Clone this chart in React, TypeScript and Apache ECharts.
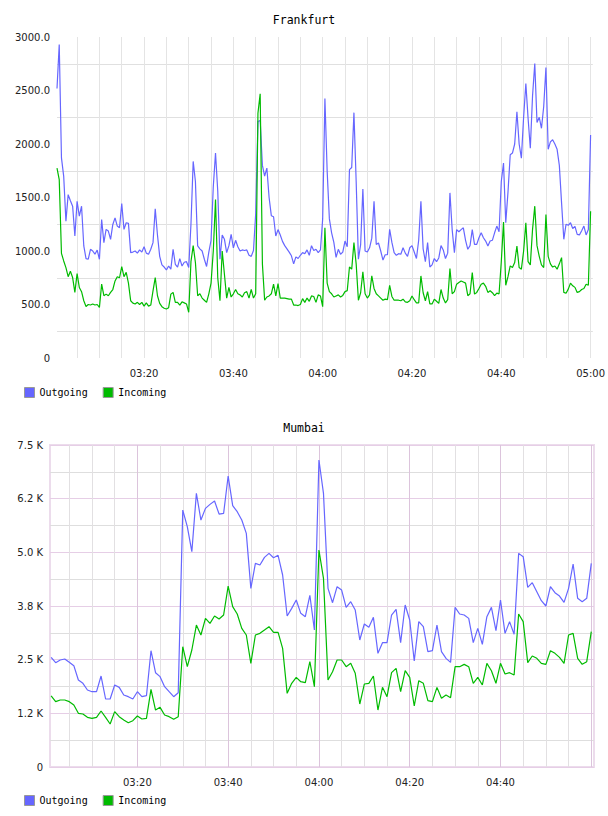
import React, { useEffect, useRef } from 'react';
import * as echarts from 'echarts';

// ---------- shared ----------
const seriesNames = ['Outgoing', 'Incoming'];
const outgoingColor = '#6666ff';
const incomingColor = '#00bb00';

// minutes after 03:00
const xTickMinutes = [20, 40, 60, 80, 100, 120];
const xTickLabels = ['03:20', '03:40', '04:00', '04:20', '04:40', '05:00'];
const mumbaiXTickMinutes = [20, 40, 60, 80, 100];
const gridMinutes = [5, 10, 15, 20, 25, 30, 35, 40, 45, 50, 55, 60, 65, 70, 75, 80, 85, 90, 95, 100, 105, 110, 115, 120];

// ---------- Frankfurt (30 s samples from 03:00:30) ----------
const frankfurtStartMin = 0.5;
const frankfurtStepMin = 0.5;
const frankfurtOutgoing = [
  2519, 2930, 1870, 1698, 1279, 1527, 1470, 1419, 1140, 1465,
  1326, 1419, 1047, 929, 923, 1016, 1000, 970, 1009, 923,
  1295, 1078, 1202, 1186, 1109, 1248, 1310, 1233, 1217, 1443,
  1202, 1264, 1258, 985, 990, 1000, 980, 1010, 990, 1040,
  980, 969, 1016, 1078, 1394, 1150, 950, 870, 850, 823,
  860, 830, 1016, 876, 850, 929, 860, 895, 900, 845,
  1250, 1837, 1650, 1047, 1020, 1000, 923, 855, 990, 1100,
  1600, 1915, 1560, 923, 1150, 1109, 985, 1050, 1155, 1030,
  1100, 1040, 1000, 1010, 1005, 1010, 960, 950, 1005, 1350,
  2210, 2220, 1800, 1700, 1775, 1500, 1330, 1320, 1140, 1200,
  1150, 1090, 1050, 1020, 990, 955, 880, 945, 930, 960,
  985, 975, 1010, 960, 1050, 1005, 1016, 985, 1010, 1300,
  2426, 1750, 1300, 1170, 1080, 940, 1016, 970, 990, 1093,
  1040, 1760, 1780, 2293, 1650, 923, 1060, 1580, 1000, 990,
  1030, 1120, 1465, 1060, 1075, 1000, 915, 965, 965, 1202,
  1080, 985, 960, 975, 970, 1030, 980, 950, 1030, 1050,
  990, 930, 1100, 1465, 1020, 900, 1078, 850, 870, 930,
  900, 935, 1050, 1010, 930, 980, 1543, 1200, 985, 1200,
  1180, 1200, 1217, 1100, 1016, 1050, 1200, 1062, 1062, 1124,
  1170, 1124, 1093, 1047, 1093, 1100, 1170, 1233, 1180, 1650,
  1822, 1264, 1550, 1900, 1915, 2000, 2302, 2000, 1868, 2250,
  2566, 2240, 1960, 2450, 2752, 2200, 2250, 2147, 2350, 2715,
  1950, 2020, 2040, 2000, 1950, 1800, 1450, 1109, 1250, 1240,
  1264, 1210, 1230, 1155, 1150, 1190, 1233, 1150, 1200, 2085,
];
const frankfurtIncoming = [
  1775, 1667, 978, 907, 845, 760, 811, 752, 613, 789,
  659, 620, 535, 482, 500, 495, 505, 495, 500, 473,
  690, 582, 597, 582, 613, 640, 720, 760, 750, 854,
  760, 800, 700, 535, 513, 505, 520, 500, 520, 485,
  515, 485, 495, 628, 752, 582, 510, 480, 465, 458,
  470, 597, 613, 520, 520, 495, 525, 515, 505, 427,
  900, 1050, 892, 582, 600, 560, 540, 520, 600, 700,
  1000, 1481, 750, 535, 1000, 780, 560, 659, 570, 600,
  640, 600, 590, 570, 610, 620, 560, 640, 560, 600,
  2287, 2470, 880, 540, 570, 580, 600, 690, 580, 696,
  560, 560, 560, 555, 550, 550, 495, 495, 490, 500,
  555, 520, 560, 530, 580, 575, 520, 590, 580, 480,
  1217, 700, 620, 600, 570, 580, 590, 570, 585, 620,
  630, 850, 830, 1078, 880, 540, 610, 805, 600, 560,
  590, 767, 650, 600, 580, 560, 540, 550, 545, 678,
  575, 540, 540, 540, 535, 550, 525, 520, 535, 580,
  545, 515, 515, 767, 610, 535, 620, 505, 505, 550,
  530, 510, 640, 560, 515, 545, 836, 600, 620, 690,
  705, 720, 710, 700, 582, 600, 799, 597, 613, 650,
  690, 700, 670, 613, 628, 610, 582, 606, 600, 900,
  1270, 680, 760, 861, 845, 892, 1047, 845, 830, 1000,
  1264, 900, 870, 1202, 1419, 1050, 950, 870, 845, 1341,
  950, 880, 850, 860, 830, 880, 938, 613, 605, 644,
  700, 675, 660, 613, 620, 640, 650, 690, 680, 1372,
];
const frankfurtYTicks = [0, 500, 1000, 1500, 2000, 2500, 3000];
const frankfurtYLabels = ['0', '500.0', '1000.0', '1500.0', '2000.0', '2500.0', '3000.0'];

// ---------- Mumbai (1 min samples from 03:01) ----------
const mumbaiStartMin = 1;
const mumbaiStepMin = 1;
const mumbaiOutgoing = [
  2554, 2430, 2492, 2515, 2438, 2360, 2026, 1949, 1793, 1754,
  1754, 2119, 1584, 1584, 1910, 1855, 1677, 1638, 1584, 1754,
  1638, 1661, 2709, 2197, 2104, 1871, 1754, 1638, 1731, 5985,
  5597, 5015, 6373, 5752, 6024, 6117, 6195, 5892, 5908, 6777,
  6086, 5947, 5752, 5442, 4161, 4743, 4704, 4883, 4976, 4875,
  4930, 4472, 3517, 3695, 3889, 3579, 3500, 4000, 3190, 7150,
  6373, 4161, 3827, 4200, 4122, 3718, 3851, 3656, 2958, 3330,
  3253, 3486, 2647, 2896, 2896, 3540, 3672, 2896, 3773, 3424,
  2469, 3385, 3268, 2686, 2709, 3307, 2686, 2531, 2438, 3718,
  3563, 3540, 3462, 2896, 3229, 2857, 3501, 3718, 3175, 3889,
  3113, 3385, 3090, 4976, 4898, 4184, 4293, 4083, 3874, 3750,
  4200, 4060, 3982, 3835, 4161, 4728, 3928, 3851, 3928, 4743,
];
const mumbaiIncoming = [
  1654, 1522, 1560, 1560, 1522, 1444, 1250, 1234, 1157, 1133,
  1157, 1304, 1157, 1001, 1289, 1172, 1095, 1032, 1079, 1188,
  1118, 1133, 1809, 1327, 1390, 1211, 1172, 1110, 1172, 2802,
  2337, 2725, 3307, 3074, 3462, 3346, 3517, 3447, 3540, 4215,
  3734, 3563, 3229, 3074, 2414, 3074, 3113, 3190, 3268, 3136,
  3136, 2764, 1716, 1949, 2088, 1987, 1964, 2453, 1871, 5054,
  4394, 2026, 2220, 2492, 2492, 2337, 2414, 2181, 1467, 1933,
  1949, 2119, 1327, 1855, 1638, 2197, 2298, 1754, 2243, 2088,
  1421, 2010, 1949, 1545, 1522, 1855, 1599, 1677, 1615, 2337,
  2337, 2391, 2337, 1949, 2088, 1910, 2414, 2243, 1949, 2414,
  2166, 2197, 2143, 3563, 3385, 2430, 2585, 2531, 2414, 2391,
  2709, 2647, 2554, 2414, 3074, 3113, 2531, 2391, 2453, 3152,
];
const mumbaiYTicks = [0, 1250, 2500, 3750, 5000, 6250, 7500];
const mumbaiYLabels = ['0', '1.2 K', '2.5 K', '3.8 K', '5.0 K', '6.2 K', '7.5 K'];

// ---------- helpers ----------
const toPairs = (vals: number[], start: number, step: number) =>
  vals.map((v, i) => [start + i * step, v]);

const sans = 'DejaVu Sans';
const mono = 'DejaVu Sans Mono';

const xLabel = (v: number) => {
  const i = xTickMinutes.indexOf(Math.round(v));
  return i >= 0 ? xTickLabels[i] : '';
};

const lineSeries = (name: string, color: string, data: number[][], idx: number) => ({
  name,
  type: 'line',
  xAxisIndex: idx,
  yAxisIndex: idx,
  data,
  showSymbol: false,
  symbol: 'none',
  silent: true,
  z: 3,
  lineStyle: { color, width: 1.2 },
  itemStyle: { color },
  emphasis: { disabled: true },
});

const gridLineSeries = (idx: number, items: any[]) => ({
  type: 'line',
  xAxisIndex: idx,
  yAxisIndex: idx,
  data: [],
  silent: true,
  markLine: {
    silent: true,
    z: 1,
    symbol: ['none', 'none'],
    label: { show: false },
    emphasis: { disabled: true },
    animation: false,
    data: items,
  },
});

const frankfurtGridItems = gridMinutes.map((m) => ({
  xAxis: m,
  lineStyle: { color: '#e4e4e4', width: 1, type: 'solid' },
}));
const mumbaiGridItems = gridMinutes.map((m) => ({
  xAxis: m,
  lineStyle: {
    color: m % 20 === 0 ? '#dcc4dc' : '#e2e0e2',
    width: 1,
    type: 'solid',
  },
}));

const legendBase = {
  data: seriesNames,
  left: 24,
  orient: 'horizontal',
  icon: 'rect',
  itemWidth: 10,
  itemHeight: 10,
  itemGap: 15,
  padding: 0,
  selectedMode: false,
  itemStyle: { borderColor: '#999', borderWidth: 1 },
  textStyle: { fontFamily: mono, fontSize: 10, color: '#000' },
};

const titleStyle = { fontFamily: mono, fontSize: 11.5, fontWeight: 'normal', color: '#000' };
const tickLabelStyle = { fontFamily: sans, fontSize: 10, color: '#222' };

const option = {
  animation: false,
  backgroundColor: '#ffffff',
  title: [
    { text: 'Frankfurt', left: 'center', top: 14, padding: 0, textStyle: titleStyle },
    { text: 'Mumbai', left: 'center', top: 422, padding: 0, textStyle: titleStyle },
  ],
  legend: [
    { ...legendBase, top: 387 },
    { ...legendBase, top: 795 },
  ],
  grid: [
    { left: 57, top: 37, width: 537, height: 321, show: false },
    {
      left: 50,
      top: 445,
      width: 544,
      height: 322,
      show: true,
      borderColor: '#ecdcec',
      borderWidth: 2,
      backgroundColor: 'transparent',
    },
  ],
  xAxis: [
    {
      gridIndex: 0,
      type: 'value',
      min: 0.5,
      max: 120.5,
      axisLine: { show: false },
      axisTick: { show: false },
      splitLine: { show: false },
      axisLabel: { ...tickLabelStyle, margin: 10, customValues: xTickMinutes, formatter: xLabel },
    },
    {
      gridIndex: 1,
      type: 'value',
      min: 0.75,
      max: 120.6,
      axisLine: { show: false },
      axisTick: { show: false },
      splitLine: { show: false },
      axisLabel: { ...tickLabelStyle, margin: 10, customValues: mumbaiXTickMinutes, formatter: xLabel },
    },
  ],
  yAxis: [
    {
      gridIndex: 0,
      type: 'value',
      min: 0,
      max: 3000,
      interval: 500,
      axisLine: { show: false },
      axisTick: { show: false },
      splitLine: { show: false },
      minorTick: { show: false, splitNumber: 2 },
      minorSplitLine: { show: true, lineStyle: { color: '#e0e0e0', width: 1 } },
      axisLabel: {
        ...tickLabelStyle,
        margin: 7,
        formatter: (v: number) => {
          const i = frankfurtYTicks.indexOf(v);
          return i >= 0 ? frankfurtYLabels[i] : '';
        },
      },
    },
    {
      gridIndex: 1,
      type: 'value',
      min: 0,
      max: 7500,
      interval: 1250,
      axisLine: { show: false },
      axisTick: { show: false },
      splitLine: { show: true, lineStyle: { color: '#e6cee6', width: 1 } },
      minorTick: { show: false, splitNumber: 2 },
      minorSplitLine: { show: true, lineStyle: { color: '#dedede', width: 1 } },
      axisLabel: {
        ...tickLabelStyle,
        margin: 7,
        formatter: (v: number) => {
          const i = mumbaiYTicks.indexOf(v);
          return i >= 0 ? mumbaiYLabels[i] : '';
        },
      },
    },
  ],
  series: [
    gridLineSeries(0, frankfurtGridItems),
    lineSeries('Outgoing', outgoingColor, toPairs(frankfurtOutgoing, frankfurtStartMin, frankfurtStepMin), 0),
    lineSeries('Incoming', incomingColor, toPairs(frankfurtIncoming, frankfurtStartMin, frankfurtStepMin), 0),
    gridLineSeries(1, mumbaiGridItems),
    lineSeries('Outgoing', outgoingColor, toPairs(mumbaiOutgoing, mumbaiStartMin, mumbaiStepMin), 1),
    lineSeries('Incoming', incomingColor, toPairs(mumbaiIncoming, mumbaiStartMin, mumbaiStepMin), 1),
  ],
};

export default function App() {
  const ref = useRef<HTMLDivElement>(null);
  useEffect(() => {
    if (!ref.current) return;
    const chart = echarts.init(ref.current, null, { renderer: 'svg' });
    chart.setOption(option as any);
    return () => chart.dispose();
  }, []);
  return (
    <div
      ref={ref}
      style={{ position: 'absolute', left: 0, top: 0, width: 608, height: 816, background: '#fff' }}
    />
  );
}
